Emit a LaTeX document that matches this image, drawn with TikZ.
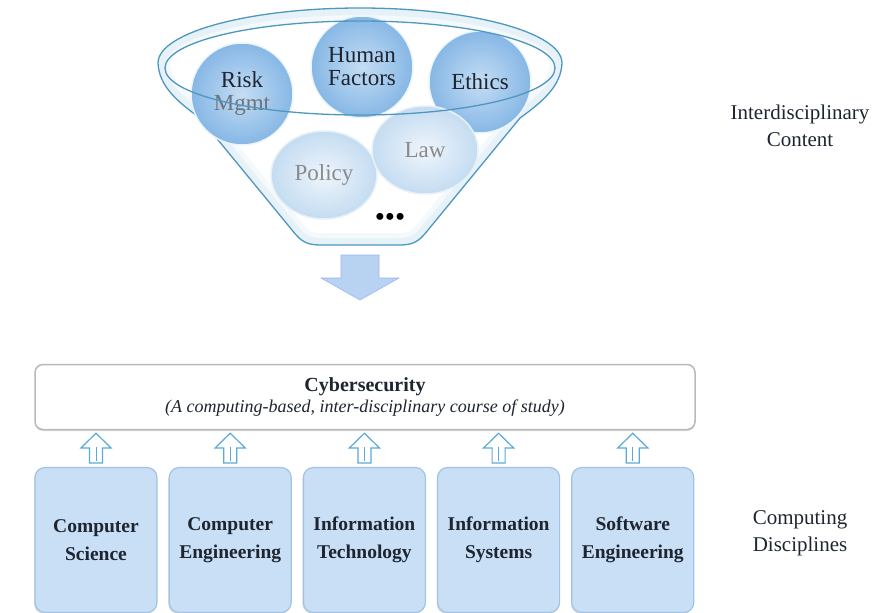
\documentclass[tikz,border=0pt]{standalone}
\usepackage{fontspec}
\setmainfont{Liberation Serif}
\usetikzlibrary{positioning,calc,shapes.geometric,shadows}

\definecolor{rimblue}{HTML}{4F97BF}
\definecolor{glowblue}{HTML}{DCEBF6}
\definecolor{ballin}{HTML}{C4DDF4}
\definecolor{ballout}{HTML}{86B7E5}
\definecolor{palein}{HTML}{EEF5FC}
\definecolor{paleout}{HTML}{C4DCF1}
\definecolor{boxfill}{HTML}{C8DFF5}
\definecolor{boxedge}{HTML}{A3C3E4}
\definecolor{dropblue}{HTML}{B8D3F1}
\definecolor{liftblue}{HTML}{5AAAD8}
\definecolor{inktext}{HTML}{1E2530}
\definecolor{greytext}{HTML}{8A8A8A}
\definecolor{mgmtgrey}{HTML}{6E7378}

% outline of the funnel
\newcommand{\funnelpath}{(158,63) arc[start angle=180, end angle=360, x radius=202, y radius=55]
    .. controls (561,85) and (545,100) .. (520,118) -- (428,230)
    .. controls (418,243) and (412,245) .. (398,245) -- (322,245)
    .. controls (308,245) and (302,243) .. (292,230) -- (200,118)
    .. controls (175,100) and (159,85) .. (158,63) -- cycle}

% hollow block arrow from the top of #1 up to the bottom of #2
\newcommand{\liftarrow}[2]{%
  \coordinate (base) at ($(#1.north)+(0,-4)$);
  \coordinate (tip) at ($(#1.north |- #2.south)+(0,3)$);
  \draw[liftarr] ($(base)+(-6.5,0)$) -- ($(base)+(-6.5,-15)$) -- ($(base)+(-15,-15)$)
    -- (tip) -- ($(base)+(15,-15)$) -- ($(base)+(6.5,-15)$) -- ($(base)+(6.5,0)$) -- cycle;
  \draw[liftblue, line width=0.8pt] ($(base)+(0,-2)$) -- ($(base)+(0,-16)$);
}

\begin{document}
\begin{tikzpicture}[x=1pt,y=-1pt,
    rim/.style={draw=rimblue, line width=1.3pt},
    topball/.style={circle, minimum size=102pt, inner sep=0pt, align=center,
      shading=radial, inner color=ballin, outer color=ballout,
      draw=white!70!ballin, line width=1.5pt, text=inktext,
      font=\fontsize{23}{23}\selectfont},
    paleball/.style={ellipse, minimum width=106pt, minimum height=88pt, inner sep=0pt,
      shading=radial, inner color=palein, outer color=paleout,
      draw=white!60!paleout, line width=1.5pt, text=greytext,
      font=\fontsize{23}{23}\selectfont},
    discbox/.style={rectangle, rounded corners=10pt, minimum width=122pt, minimum height=145pt,
      inner sep=0pt, fill=boxfill, draw=boxedge, line width=1.2pt, align=center, text=inktext,
      drop shadow={shadow xshift=-1pt, shadow yshift=-1.5pt, opacity=0.25},
      font=\fontsize{19.5}{28}\selectfont\bfseries},
    cyberbox/.style={rectangle, rounded corners=8pt, minimum width=660pt, minimum height=65pt,
      fill=white, draw=gray!55, line width=1.5pt, align=center, text=inktext,
      drop shadow={shadow xshift=0pt, shadow yshift=-1.5pt, opacity=0.3}},
    sidetext/.style={align=center, text=inktext, font=\fontsize{21}{27}\selectfont},
    liftarr/.style={draw=liftblue, fill=white, line width=1.2pt},
    droparr/.style={fill=dropblue, draw=dropblue!85!blue, line width=0.6pt}]

  \useasboundingbox (0,0) rectangle (892,613);

  % funnel body with a soft glow inside its edge
  \fill[white] \funnelpath;
  \begin{scope}
    \clip \funnelpath;
    \draw[glowblue, line width=14pt] \funnelpath;
    \draw[glowblue!50!white, line width=24pt, opacity=0.6] \funnelpath;
  \end{scope}
  \draw[rim] \funnelpath;
  \coordinate (F) at (360,245);

  % contents
  \node[topball] (RM) at (242,94) {Risk\\{\color{mgmtgrey}Mgmt}};
  \node[topball] (HF) at (362,67) {Human\\Factors};
  \node[topball] (ET) at (480,82) {Ethics};
  \node[paleball] (PO) at (324,175) {Policy};
  \node[paleball] (LW) at (425,150) {Law};
  \node[font=\fontsize{29}{29}\selectfont] (DT) at (390,220) {\textbullet\textbullet\textbullet};

  % rim of the funnel
  \draw[rim] (360,68) ellipse [x radius=195, y radius=47];

  % arrow out of the funnel
  \draw[droparr] ($(F)+(-19,10)$) -- ($(F)+(-19,33)$) -- ($(F)+(-39,33)$) -- ($(F)+(0,55)$)
    -- ($(F)+(39,33)$) -- ($(F)+(19,33)$) -- ($(F)+(19,10)$) -- cycle;

  \node[cyberbox] (CY) at (365,397) {{\fontsize{20}{22}\selectfont\bfseries Cybersecurity}\\[3pt]
    {\fontsize{18}{20}\selectfont\itshape (A computing-based, inter-disciplinary course of study)}};

  \node[discbox] (CS) at (96,540) {Computer\\Science};
  \node[discbox, right=11pt of CS] (CE) {Computer\\Engineering};
  \node[discbox, right=11pt of CE] (IT) {Information\\Technology};
  \node[discbox, right=11pt of IT] (IS) {Information\\Systems};
  \node[discbox, right=11pt of IS] (SE) {Software\\Engineering};

  \liftarrow{CS}{CY}
  \liftarrow{CE}{CY}
  \liftarrow{IT}{CY}
  \liftarrow{IS}{CY}
  \liftarrow{SE}{CY}

  \node[sidetext] (IC) at (800,126) {Interdisciplinary\\Content};
  \node[sidetext] (CD) at (800,533) {Computing\\Disciplines};
\end{tikzpicture}
\end{document}
